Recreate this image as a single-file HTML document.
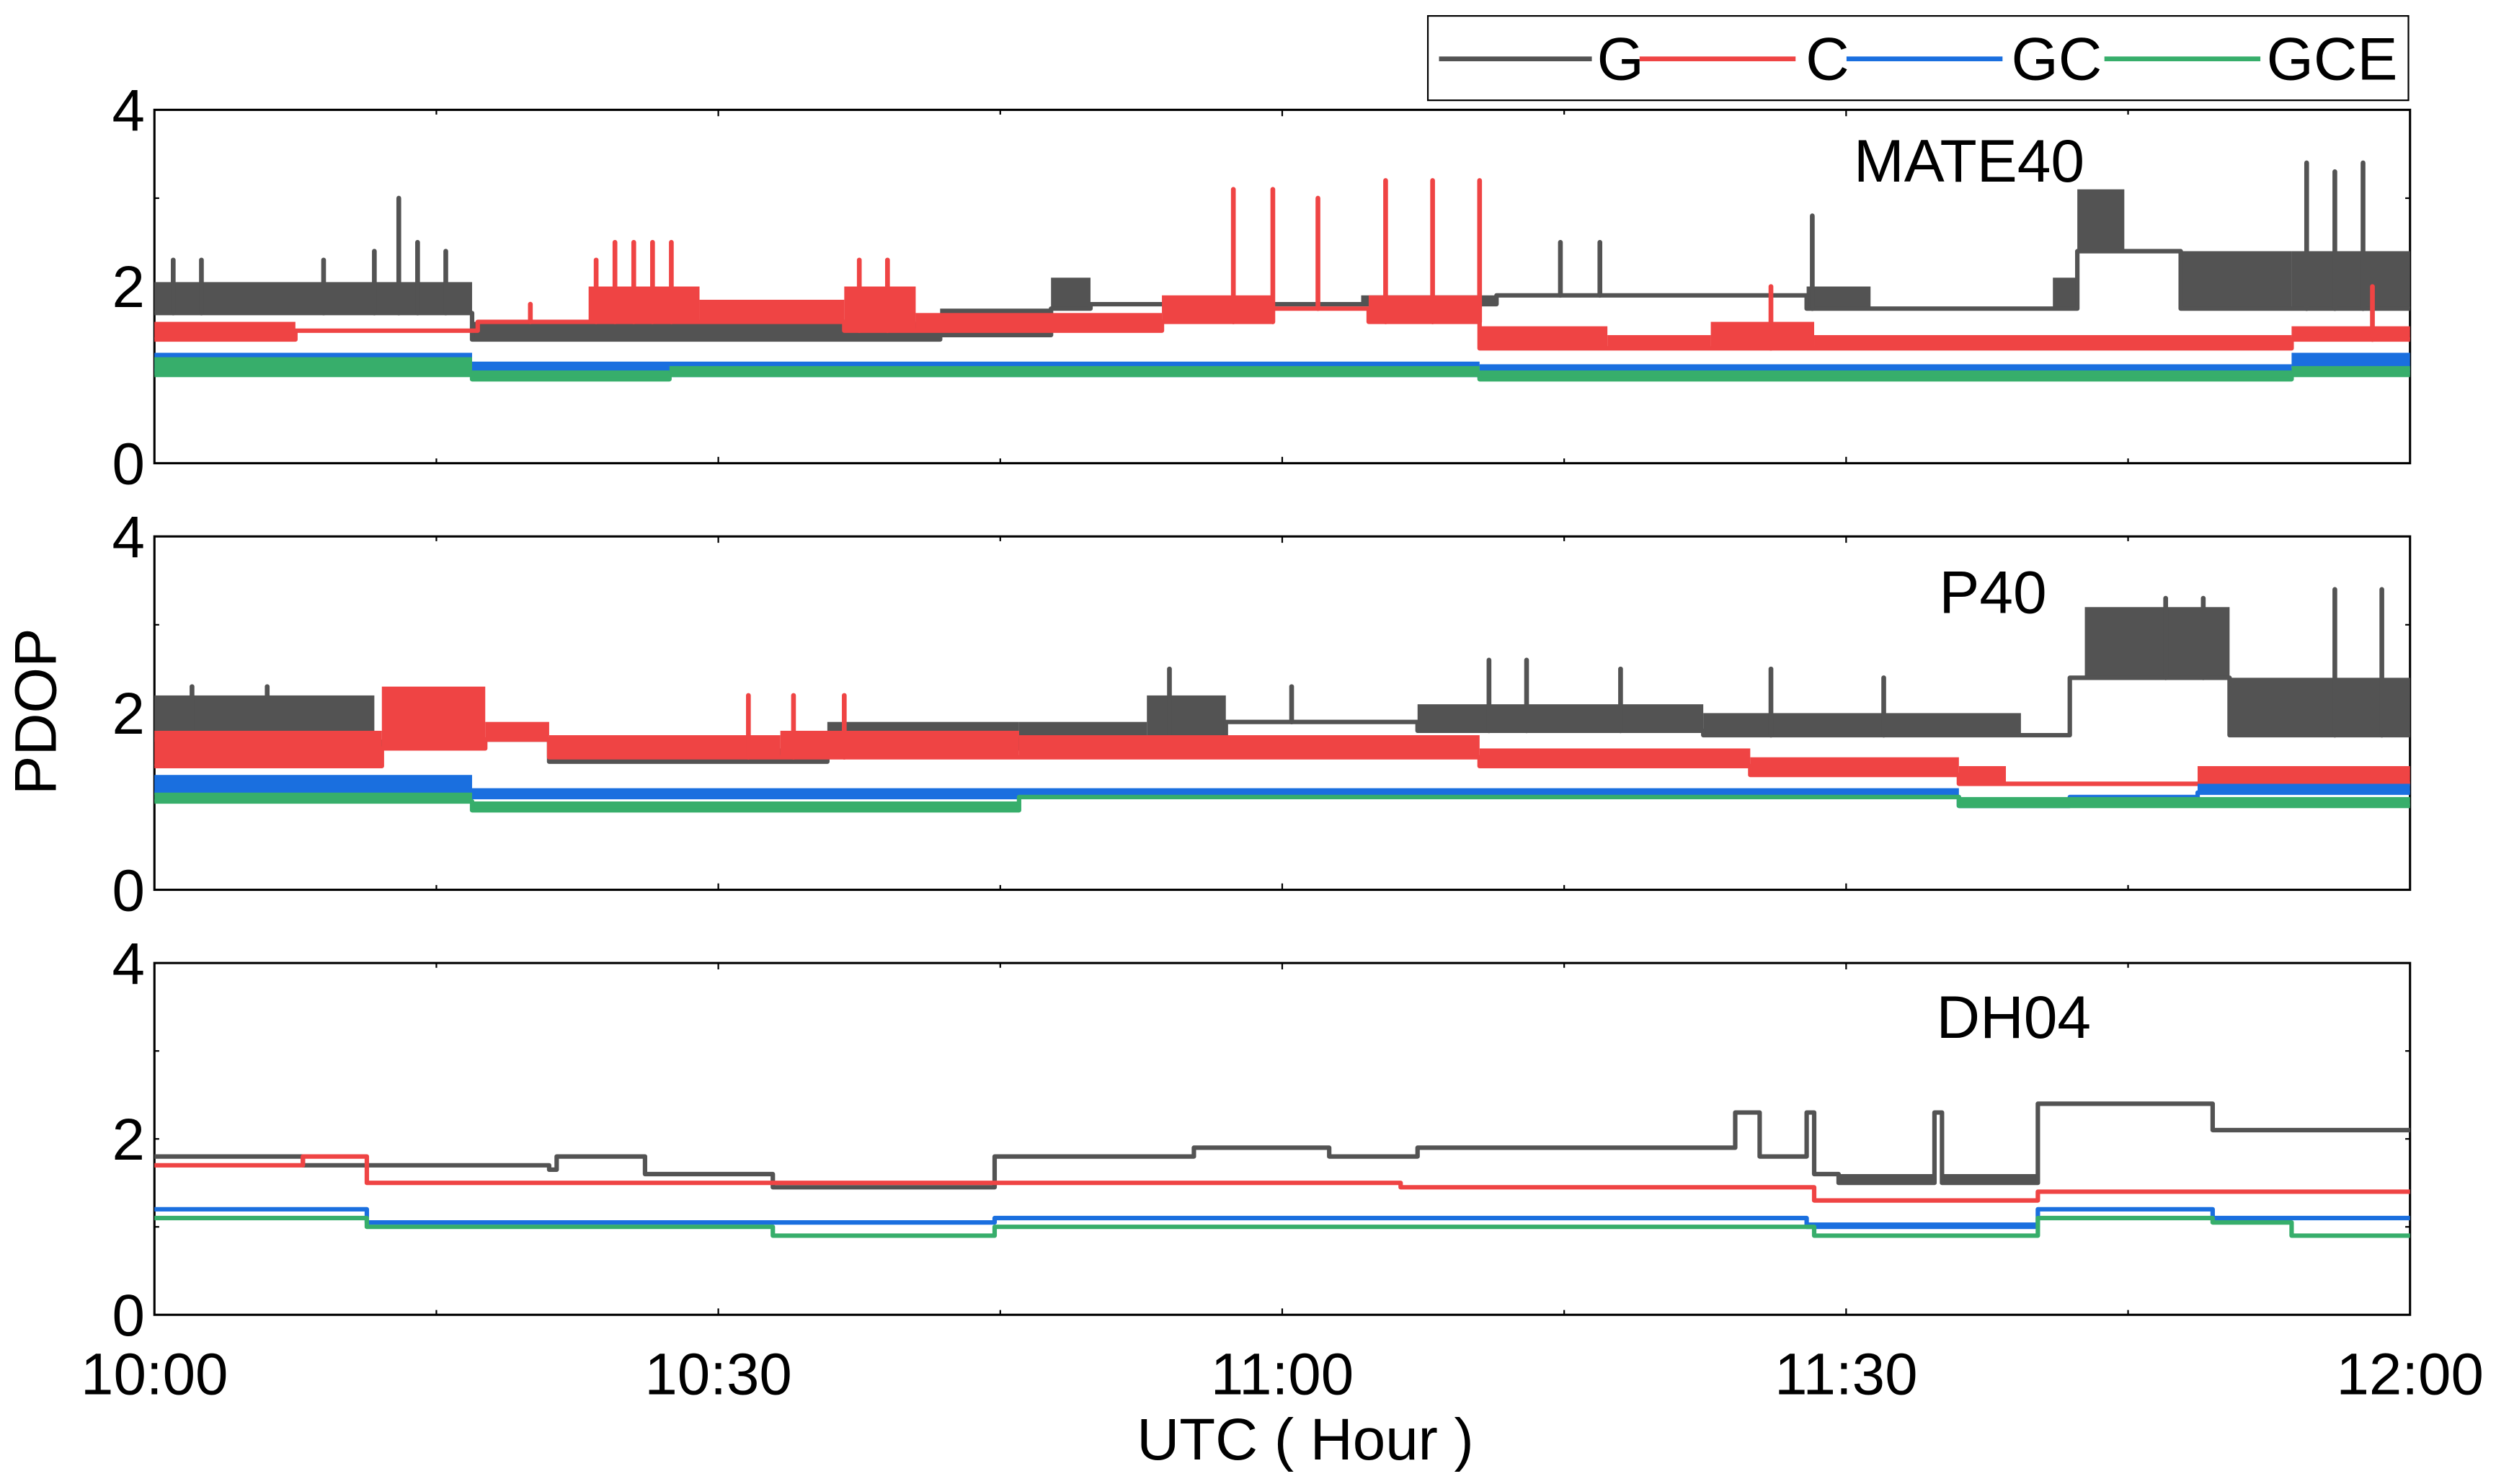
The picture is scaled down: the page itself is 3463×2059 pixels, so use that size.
<!DOCTYPE html>
<html><head><meta charset="utf-8"><style>
html,body{margin:0;padding:0;background:#fff;}
svg{display:block;}
text{font-family:"Liberation Sans",Arial,sans-serif;fill:#000;}
</style></head><body>
<svg id="chart" width="3463" height="2059" viewBox="0 0 1568 932.3" xmlns="http://www.w3.org/2000/svg">
<g id="frame"></g>
<g id="marks"></g>
<g id="labels"></g>
</svg>
<script>
// ---- data (minutes after 10:00, PDOP) ; segments = [t0, t1, low, high]
const xTickLabels = ["10:00","10:30","11:00","11:30","12:00"];
const xTickMinutes = [0,30,60,90,120];
const yTickValues = [0,2,4];
const seriesNames = ["G","C","GC","GCE"];
const panelNames = ["MATE40","P40","DH04"];

const mateG = [[0,16.9,1.7,2.05],[16.9,41.8,1.4,1.6],[41.8,47.7,1.45,1.75],[47.7,49.8,1.75,2.1],[49.8,64.2,1.8,1.8],[64.2,71.4,1.8,1.9],[71.4,87.9,1.9,1.9],[87.9,91.3,1.75,2.0],[91.3,101,1.75,1.75],[101,102.3,1.75,2.1],[102.3,104.8,2.4,3.1],[104.8,107.8,2.4,2.4],[107.8,113.7,1.75,2.4],[113.7,120,1.75,2.4]];
const mateGSpikes = [[1,2.3],[2.5,2.3],[9,2.3],[11.7,2.4],[13,3.0],[14,2.5],[15.5,2.4],[74.8,2.5],[76.9,2.5],[88.2,2.8],[114.5,3.4],[116,3.3],[117.5,3.4]];
const mateC = [[0,7.5,1.4,1.6],[7.5,17.2,1.5,1.5],[17.2,23.1,1.6,1.6],[23.1,29,1.6,2.0],[29,36.7,1.6,1.85],[36.7,40.5,1.5,2.0],[40.5,53.6,1.5,1.7],[53.6,59.5,1.6,1.9],[59.5,64.6,1.75,1.75],[64.6,70.5,1.6,1.9],[70.5,77.3,1.3,1.55],[77.3,82.8,1.3,1.45],[82.8,88.3,1.3,1.6],[88.3,113.7,1.3,1.45],[113.7,120,1.4,1.55]];
const mateCSpikes = [[23.5,2.3],[24.5,2.5],[25.5,2.5],[26.5,2.5],[27.5,2.5],[37.5,2.3],[39,2.3],[57.4,3.1],[59.5,3.1],[61.9,3.0],[65.5,3.2],[68,3.2],[70.5,3.2],[20,1.8],[86,2.0],[118,2.0]];
const mateGC = [[0,16.9,1.05,1.25],[16.9,70.5,1.0,1.15],[70.5,113.7,0.97,1.12],[113.7,120,1.05,1.25]];
const mateGCE = [[0,16.9,1.0,1.2],[16.9,27.4,0.95,1.05],[27.4,70.5,1.0,1.1],[70.5,113.7,0.95,1.05],[113.7,120,1.0,1.1]];

const p40G = [[0,11.7,1.7,2.2],[11.7,17.2,1.6,1.7],[17.2,21,1.7,1.7],[21,28.2,1.45,1.7],[28.2,35.8,1.45,1.6],[35.8,46,1.6,1.9],[46,52.8,1.7,1.9],[52.8,57,1.7,2.2],[57,67.2,1.9,1.9],[67.2,82.4,1.8,2.1],[82.4,99.3,1.75,2.0],[99.3,101.9,1.75,1.75],[101.9,102.7,2.4,2.4],[102.7,110.4,2.4,3.2],[110.4,120,1.75,2.4]];
const p40GSpikes = [[2,2.3],[6,2.3],[54,2.5],[60.5,2.3],[71,2.6],[73,2.6],[78,2.5],[86,2.5],[92,2.4],[107,3.3],[109,3.3],[116,3.4],[118.5,3.4]];
const p40C = [[0,12.1,1.4,1.8],[12.1,17.6,1.6,2.3],[17.6,21,1.7,1.9],[21,33.3,1.5,1.75],[33.3,46,1.5,1.8],[46,70.5,1.5,1.75],[70.5,84.9,1.4,1.6],[84.9,96,1.3,1.5],[96,98.5,1.2,1.4],[98.5,108.7,1.2,1.2],[108.7,120,1.2,1.4]];
const p40CSpikes = [[31.6,2.2],[34,2.2],[36.7,2.2]];
const p40GC = [[0,16.9,1.1,1.3],[16.9,96,1.05,1.15],[96,101.9,0.95,0.95],[101.9,108.7,1.05,1.05],[108.7,120,1.1,1.2]];
const p40GCE = [[0,16.9,1.0,1.1],[16.9,46,0.9,1.0],[46,96,1.05,1.05],[96,120,0.95,1.05]];

const dhG = [[0,7.9,1.8,1.8],[7.9,21,1.7,1.7],[21,21.4,1.65,1.65],[21.4,26.1,1.8,1.8],[26.1,32.9,1.6,1.6],[32.9,44.7,1.45,1.45],[44.7,55.3,1.8,1.8],[55.3,62.5,1.9,1.9],[62.5,67.2,1.8,1.8],[67.2,84.1,1.9,1.9],[84.1,85.4,2.3,2.3],[85.4,87.9,1.8,1.8],[87.9,88.3,2.3,2.3],[88.3,89.6,1.6,1.6],[89.6,94.7,1.5,1.6],[94.7,95.1,2.3,2.3],[95.1,100.2,1.5,1.6],[100.2,109.5,2.4,2.4],[109.5,120,2.1,2.1]];
const dhC = [[0,7.9,1.7,1.7],[7.9,11.3,1.8,1.8],[11.3,66.3,1.5,1.5],[66.3,88.3,1.45,1.45],[88.3,100.2,1.3,1.3],[100.2,120,1.4,1.4]];
const dhGC = [[0,11.3,1.2,1.2],[11.3,44.7,1.05,1.05],[44.7,87.9,1.1,1.1],[87.9,100.2,1.0,1.05],[100.2,109.5,1.2,1.2],[109.5,120,1.1,1.1]];
const dhGCE = [[0,11.3,1.1,1.1],[11.3,32.9,1.0,1.0],[32.9,44.7,0.9,0.9],[44.7,82.8,1.0,1.0],[82.8,88.3,1.0,1.0],[88.3,100.2,0.9,0.9],[100.2,109.5,1.1,1.1],[109.5,113.7,1.05,1.05],[113.7,120,0.9,0.9]];

const colors = ["#535353","#ef4444","#1a6fdf","#37ae6b"];
const panels = [
  {top:69,bottom:291,series:[mateG,mateC,mateGC,mateGCE],spikes:[mateGSpikes,mateCSpikes,[],[]],label:[1237,114]},
  {top:337,bottom:559,series:[p40G,p40C,p40GC,p40GCE],spikes:[p40GSpikes,p40CSpikes,[],[]],label:[1252,385]},
  {top:605,bottom:826,series:[dhG,dhC,dhGC,dhGCE],spikes:[[],[],[],[]],label:[1265,652]}
];
const X0=97, X1=1514;
function xScale(t){return X0+(t/120)*(X1-X0);}
function yScaleFor(p){return v=>p.bottom-(v/4)*(p.bottom-p.top);}
const NS="http://www.w3.org/2000/svg";
function mk(tag,attrs,parent){const e=document.createElementNS(NS,tag);for(const k in attrs)e.setAttribute(k,attrs[k]);parent.appendChild(e);return e;}
const frame=document.getElementById('frame'),marks=document.getElementById('marks'),labels=document.getElementById('labels');

panels.forEach((p,pi)=>{
  const y=yScaleFor(p);
  const g=mk('g',{},marks);
  
  
  p.series.forEach((segs,si)=>{
    const c=colors[si];
    const sg=mk('g',{},g);
    
    
    let d='';
    segs.forEach((s,i)=>{
      const xa=xScale(s[0]),xb=xScale(s[1]);
      const ylo=y(s[2]);
      d+=(i===0?'M':'L')+xa+','+ylo+' L'+xb+','+ylo+' ';
      if(s[3]>s[2]){
        const r=mk('rect',{x:xa,y:y(s[3]),width:xb-xa,height:ylo-y(s[3]),fill:c},sg);
        
        
      }
    });
    const path=mk('path',{d:d,fill:'none',stroke:c,'stroke-width':2.8,'stroke-linejoin':'round'},sg);
    
    
    const sp=p.spikes[si];
    sp.forEach(s=>{
      const base=segs.find(q=>s[0]>=q[0]&&s[0]<=q[1]);
      const bv=base?base[2]:s[1];
      const l=mk('line',{x1:xScale(s[0]),x2:xScale(s[0]),y1:y(bv),y2:y(s[1]),stroke:c,'stroke-width':3,'stroke-linecap':'round'},sg);
      
      
    });
  });
  const r=mk('rect',{x:X0,y:p.top,width:X1-X0,height:p.bottom-p.top,fill:'none',stroke:'#000','stroke-width':1.4},frame);
  
  
  for(let t=15;t<120;t+=15){
    const len=(t%30===0)?4:3;
    mk('line',{x1:xScale(t),x2:xScale(t),y1:p.bottom,y2:p.bottom-len,stroke:'#000','stroke-width':1},frame);
    mk('line',{x1:xScale(t),x2:xScale(t),y1:p.top,y2:p.top+len,stroke:'#000','stroke-width':1},frame);
  }
  [1,2,3].forEach(v=>{
    mk('line',{x1:X0,x2:X0+3,y1:y(v),y2:y(v),stroke:'#000','stroke-width':1},frame);
    mk('line',{x1:X1,x2:X1-3,y1:y(v),y2:y(v),stroke:'#000','stroke-width':1},frame);
  });
  yTickValues.forEach(v=>{
    const tx=mk('text',{x:91,y:y(v)+13,'font-size':37,'text-anchor':'end'},labels);
    tx.textContent=String(v);
    
    
  });
  const pl=mk('text',{x:p.label[0],y:p.label[1],'font-size':38,'text-anchor':'middle'},labels);
  pl.textContent=panelNames[pi];
  
  
});
xTickLabels.forEach((lab,i)=>{
  const tx=mk('text',{x:xScale(xTickMinutes[i]),y:876,'font-size':37,'text-anchor':'middle'},labels);
  tx.textContent=lab;
  
  
});
const xt=mk('text',{x:820,y:917,'font-size':37,'text-anchor':'middle'},labels);
xt.textContent='UTC ( Hour )';


const yt=mk('text',{x:0,y:0,'font-size':37,'text-anchor':'middle',transform:'translate(35,447) rotate(-90)'},labels);
yt.textContent='PDOP';


const lg=mk('g',{},labels);


mk('rect',{x:897,y:10,width:616,height:53,fill:'#fff',stroke:'#000','stroke-width':1},lg);
const legX=[[904,1000,1018],[1030,1128,1148],[1160,1258,1292],[1322,1420,1465]];
seriesNames.forEach((n,i)=>{
  const e=mk('g',{},lg);
  
  
  mk('line',{x1:legX[i][0],x2:legX[i][1],y1:37,y2:37,stroke:colors[i],'stroke-width':3},e);
  const t=mk('text',{x:legX[i][2],y:50,'font-size':38,'text-anchor':'middle'},e);
  t.textContent=n;
});
</script>
</body></html>
